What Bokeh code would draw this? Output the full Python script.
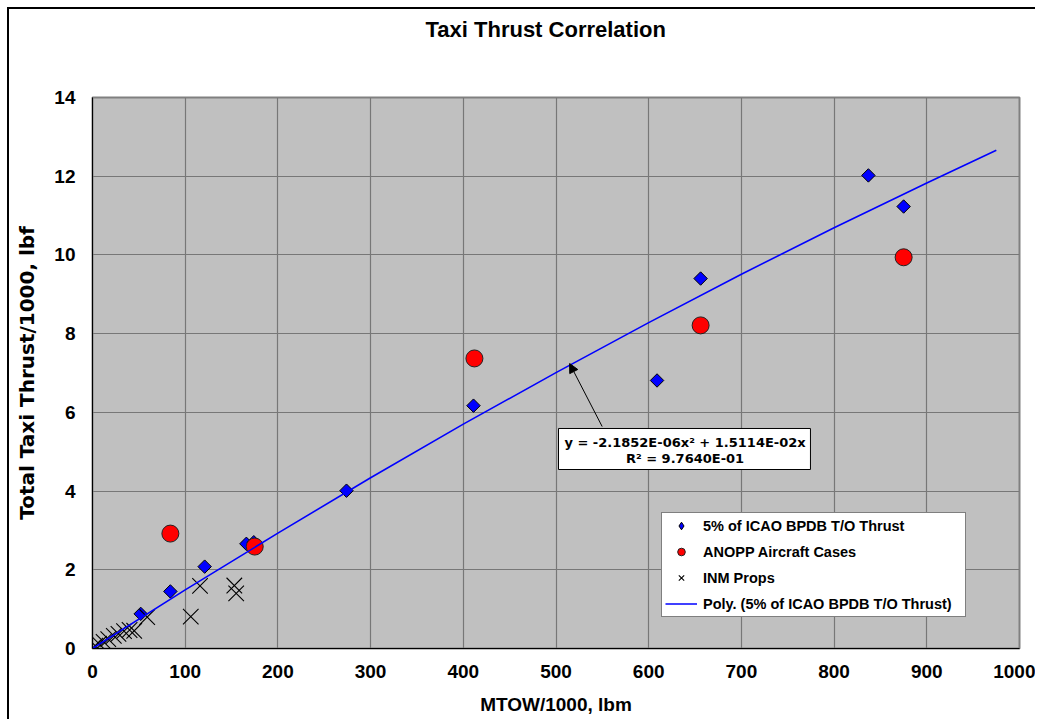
import numpy as np
from bokeh.plotting import figure
from bokeh.models import (FixedTicker, Legend, LegendItem, Arrow, NormalHead,
                          Label, BoxAnnotation, Range1d, LinearAxis)
from bokeh.embed import file_html
from bokeh.resources import INLINE

# ---------------- data ----------------
title_text = "Taxi Thrust Correlation"
x_label = "MTOW/1000, lbm"
y_label = "Total Taxi Thrust/1000, lbf"

icao_mtow = [837, 875, 656, 609, 411, 274, 166, 174, 121, 84, 52]
icao_thrust = [12.02, 11.23, 9.40, 6.81, 6.17, 4.01, 2.66, 2.70, 2.08, 1.45, 0.88]

anopp_mtow = [84, 175, 412, 656, 875]
anopp_thrust = [2.92, 2.59, 7.37, 8.21, 9.94]

inm_mtow = [0, 3, 7, 12, 17, 23, 28, 34, 40, 45, 59, 106, 116, 153, 155]
inm_thrust = [0.0, 0.07, 0.12, 0.17, 0.24, 0.32, 0.37, 0.44, 0.47, 0.45,
              0.80, 0.81, 1.59, 1.60, 1.40]

fit_mtow = [0, 100, 200, 300, 400, 500, 600, 700, 800, 900, 975]
fit_thrust = [0.0, 1.49, 2.93, 4.34, 5.70, 7.01, 8.28, 9.51, 10.69, 11.83, 12.66]

x_ticks = [0, 100, 200, 300, 400, 500, 600, 700, 800, 900, 1000]
y_ticks = [0, 2, 4, 6, 8, 10, 12, 14]

legend_labels = ["5% of ICAO BPDB T/O Thrust", "ANOPP Aircraft Cases",
                 "INM Props", "Poly. (5% of ICAO BPDB T/O Thrust)"]
fit_eq = "y = -2.1852E-06x\u00b2 + 1.5114E-02x"
fit_r2 = "R\u00b2 = 9.7640E-01"

BOLD_FONT = "Liberation Sans"

# ---------------- figure ----------------
p = figure(width=1028, height=712,
           x_range=Range1d(0, 1000), y_range=Range1d(0, 14),
           output_backend="svg", toolbar_location=None,
           min_border_left=83, min_border_right=18,
           min_border_top=88, min_border_bottom=73,
           background_fill_color="#C0C0C0", border_fill_color="white",
           outline_line_color="#808080", outline_line_width=2)
p.margin = (7, 0, 0, 7)
p.styles = {"border-left": "2px solid black", "border-top": "2px solid black"}

xa = p.below[0]
ya = p.left[0]

for ax in (xa, ya):
    ax.major_label_text_font = BOLD_FONT
    ax.major_label_text_font_size = "19px"
    ax.major_label_text_font_style = "bold"
    ax.major_label_text_color = "black"
    ax.major_tick_out = 0
    ax.major_tick_in = 0
    ax.minor_tick_out = 0
    ax.minor_tick_in = 0
    ax.axis_line_color = "black"
    ax.axis_line_width = 1
    ax.axis_label_text_font_style = "bold"
    ax.axis_label_text_color = "black"

xa.ticker = FixedTicker(ticks=x_ticks)
ya.ticker = FixedTicker(ticks=y_ticks)
xa.major_label_standoff = 16
ya.major_label_standoff = 17

xa.axis_label = x_label
xa.axis_label_text_font = BOLD_FONT
xa.axis_label_text_font_size = "19px"
xa.axis_label_standoff = 13

ya.axis_label = y_label
ya.axis_label_text_font = "DejaVu Sans"
ya.axis_label_text_font_size = "20px"
ya.axis_label_standoff = 12

p.xgrid.ticker = FixedTicker(ticks=x_ticks)
p.ygrid.ticker = FixedTicker(ticks=y_ticks)
p.grid.grid_line_color = "#777777"
p.grid.grid_line_width = 1.2

# invisible spacer axis above the frame, so the title sits near the top
spacer = LinearAxis(ticker=FixedTicker(ticks=[]), axis_line_color=None,
                    major_tick_line_color=None, minor_tick_line_color=None,
                    major_tick_out=0, major_tick_in=0, minor_tick_out=0,
                    minor_tick_in=0, major_label_standoff=0,
                    axis_label=" ", axis_label_standoff=26,
                    axis_label_text_font_size="20px",
                    axis_label_text_alpha=0)
p.add_layout(spacer, "above")

p.title.text = title_text
p.title.align = "left"
p.title.offset = 333
p.title.standoff = 10
p.title.text_font = BOLD_FONT
p.title.text_font_size = "22px"
p.title.text_font_style = "bold"
p.title.text_color = "black"

# ---------------- glyphs ----------------
r_icao = p.scatter(icao_mtow, icao_thrust, marker="square", angle=np.pi / 4,
                   size=9.5, fill_color="#0000FF", line_color="black", line_width=1)
r_anopp = p.scatter(anopp_mtow, anopp_thrust, marker="circle", size=17,
                    fill_color="#FF0000", line_color="#222222", line_width=1)
r_inm = p.scatter(inm_mtow, inm_thrust, marker="x", size=22,
                  line_color="black", line_width=1.1)
r_fit = p.line(fit_mtow, fit_thrust, line_color="#0000FF", line_width=1.6)

# legend-only renderer with a diamond swatch (no visible data point)
r_icao_leg = p.scatter([np.nan], [np.nan], marker="diamond", fill_color="#0000FF",
                       line_color="black", line_width=1)

legend = Legend(items=[
    LegendItem(label=legend_labels[0], renderers=[r_icao_leg]),
    LegendItem(label=legend_labels[1], renderers=[r_anopp]),
    LegendItem(label=legend_labels[2], renderers=[r_inm]),
    LegendItem(label=legend_labels[3], renderers=[r_fit]),
], location=(569, 31), margin=0, padding=3, spacing=7,
    glyph_height=19, glyph_width=32, label_height=19, label_standoff=6,
    label_width=259,
    label_text_font=BOLD_FONT, label_text_font_size="14.5px",
    label_text_font_style="bold", label_text_color="black",
    border_line_color="black", border_line_width=1,
    background_fill_color="white", background_fill_alpha=1.0)
p.add_layout(legend)

# ---------------- trend-line annotation ----------------
p.add_layout(Arrow(x_start=549.8, y_start=5.64, x_end=514.7, y_end=7.24,
                   line_color="black", line_width=1,
                   end=NormalHead(size=9, fill_color="black", line_color="black")))
p.add_layout(BoxAnnotation(left=502.7, right=774.5, bottom=4.548, top=5.59,
                           fill_color="white", fill_alpha=1.0,
                           line_color="black", line_alpha=1.0, line_width=1))
for txt, yy in ((fit_eq, 5.234), (fit_r2, 4.828)):
    p.add_layout(Label(x=639.2, y=yy, text=txt, text_align="center",
                       text_baseline="middle", text_font="DejaVu Sans",
                       text_font_style="bold", text_font_size="13px",
                       text_color="black"))

open("out.html", "w").write(file_html(p, INLINE))
